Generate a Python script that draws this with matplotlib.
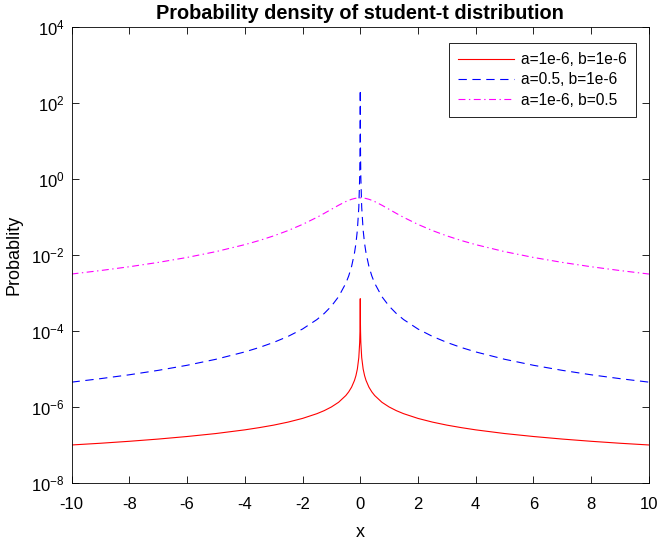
import numpy as np
import matplotlib
matplotlib.use("Agg")
import matplotlib.pyplot as plt

plt.rcParams['font.family'] = ['Liberation Sans', 'DejaVu Sans']
plt.rcParams['mathtext.fontset'] = 'custom'
plt.rcParams['mathtext.rm'] = 'Liberation Sans'
plt.rcParams['mathtext.it'] = 'Liberation Sans:italic'
plt.rcParams['mathtext.bf'] = 'Liberation Sans:bold'
plt.rcParams['axes.unicode_minus'] = False
plt.rcParams['lines.scale_dashes'] = False

# x from 0 to 10 (curves are symmetric about x = 0)
x_half = [0, 0.001, 0.002, 0.005, 0.01, 0.02, 0.05, 0.1, 0.15, 0.2, 0.3, 0.4,
          0.5, 0.75, 1, 1.25, 1.5, 2, 2.5, 3, 3.5, 4, 5, 6, 7, 8, 9, 10]

# a=1e-6, b=1e-6
red_half = [7.07e-4, 5.77e-4, 4.08e-4, 1.92e-4, 9.9e-5, 4.99e-5, 2.0e-5, 1.0e-5,
            6.67e-6, 5.0e-6, 3.33e-6, 2.5e-6, 2.0e-6, 1.33e-6, 1.0e-6, 8.0e-7,
            6.67e-7, 5.0e-7, 4.0e-7, 3.33e-7, 2.86e-7, 2.5e-7, 2.0e-7, 1.67e-7,
            1.43e-7, 1.25e-7, 1.11e-7, 1.0e-7]

# a=0.5, b=1e-6
blue_half = [225.0, 150.0, 75.0, 16.7, 4.41, 1.12, 0.18, 0.045, 0.0200, 0.01125,
             5.0e-3, 2.81e-3, 1.8e-3, 8.0e-4, 4.5e-4, 2.88e-4, 2.0e-4, 1.125e-4,
             7.2e-5, 5.0e-5, 3.67e-5, 2.81e-5, 1.8e-5, 1.25e-5, 9.19e-6, 7.03e-6,
             5.56e-6, 4.5e-6]

# a=1e-6, b=0.5
mag_half = [0.3183, 0.3183, 0.3183, 0.3183, 0.3183, 0.3182, 0.3175, 0.3152,
            0.3113, 0.3061, 0.2920, 0.2744, 0.2546, 0.2037, 0.1592, 0.1242,
            0.0979, 0.0637, 0.0439, 0.0318, 0.0240, 0.0187, 0.01224, 8.60e-3,
            6.37e-3, 4.90e-3, 3.89e-3, 3.15e-3]

labels = ['a=1e-6, b=1e-6', 'a=0.5, b=1e-6', 'a=1e-6, b=0.5']


def mirror(v, sign=1):
    v = np.asarray(v, dtype=float)
    return np.concatenate([sign * v[::-1], v[1:]])


x = mirror(x_half, -1)

fig = plt.figure(figsize=(6.58, 5.45), dpi=100)
ax = fig.add_axes([0.1087, 0.1138, 0.8776, 0.8367])

ax.semilogy(x, mirror(red_half), color='#ff0000', lw=0.8, label=labels[0])
ax.semilogy(x, mirror(blue_half), color='#0000ff', lw=0.8,
            linestyle=(0, (6, 4)), label=labels[1])
ax.semilogy(x, mirror(mag_half), color='#ff00ff', lw=0.8,
            linestyle=(0, (5, 2.5, 1, 2.5)), label=labels[2])

ax.set_xlim(-10, 10)
ax.set_ylim(1e-8, 1e4)
ax.set_xticks(np.arange(-10, 11, 2))
ax.set_yticks([1e-8, 1e-6, 1e-4, 1e-2, 1e0, 1e2, 1e4])
ax.yaxis.set_minor_locator(matplotlib.ticker.NullLocator())
ax.tick_params(direction='in', top=True, right=True, length=5, width=0.6,
               labelsize=12)
ax.tick_params(axis='x', pad=10)
ax.tick_params(axis='y', pad=5)
for s in ax.spines.values():
    s.set_linewidth(0.6)

ax.set_xlabel('x', fontsize=13, labelpad=9)
ax.set_ylabel('Probablity', fontsize=13, labelpad=6)
ax.set_title('Probability density of student-t distribution', fontsize=14.3,
             fontweight='bold', pad=6)

leg = ax.legend(loc='upper right', bbox_to_anchor=(0.9775, 0.965),
                fontsize=11.2, fancybox=False, edgecolor='black',
                framealpha=1, borderaxespad=0, handlelength=3.6,
                handletextpad=0.45, borderpad=0.6, labelspacing=0.33)
leg.get_frame().set_linewidth(0.6)

fig.savefig('out.png', dpi=100)
